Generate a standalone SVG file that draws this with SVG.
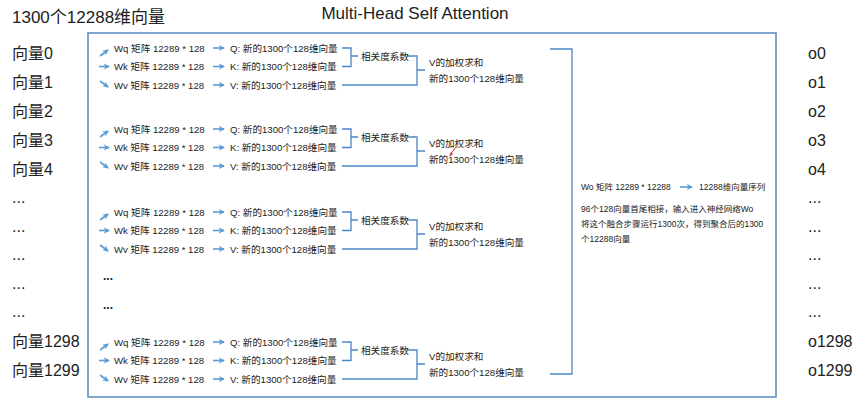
<svg xmlns="http://www.w3.org/2000/svg" width="865" height="405" viewBox="0 0 865 405">
<defs>
<marker id="ah" viewBox="0 0 8 8" refX="6" refY="4" markerWidth="7" markerHeight="7" markerUnits="userSpaceOnUse" orient="auto">
<path d="M0,0.5 L7,4 L0,7.5 L2,4 z" fill="#5b9bd5"/>
</marker>
<g id="blk">
<g class="arr">
<line x1="100" y1="8" x2="108" y2="2"/>
<line x1="99" y1="18.5" x2="109" y2="18.5"/>
<line x1="100" y1="33" x2="108" y2="39"/>
<line x1="213" y1="0" x2="224" y2="0"/>
<line x1="213" y1="18.5" x2="224" y2="18.5"/>
<line x1="213" y1="37" x2="224" y2="37"/>
</g>
<text class="s" x="114" y="0">Wq 矩阵 12289 * 128</text>
<text class="s" x="114" y="18.5">Wk 矩阵 12289 * 128</text>
<text class="s" x="114" y="37">Wv 矩阵 12289 * 128</text>
<text class="s" x="230" y="0">Q: 新的1300个128维向量</text>
<text class="s" x="230" y="18.5">K: 新的1300个128维向量</text>
<text class="s" x="230" y="37">V: 新的1300个128维向量</text>
<path class="br" d="M342,0 H351 V18.5 H342 M351,8 H358 M407,8 H417 V37 H342 M417,22 H425"/>
<text class="s" x="361" y="8">相关度系数</text>
<text class="s" x="429" y="14">V的加权求和</text>
<text class="s" x="429" y="30">新的1300个128维向量</text>
</g>
</defs>
<style>
text{font-family:"Liberation Sans","Noto Sans CJK SC",sans-serif;fill:#222;dominant-baseline:central}
.s{font-size:9.6px}
.m{font-size:16px}
.r{font-size:8.5px}
.arr line{stroke:#5b9bd5;stroke-width:1.6;marker-end:url(#ah)}
.br{fill:none;stroke:#4a86c6;stroke-width:1.3}
</style>
<rect width="865" height="405" fill="#ffffff"/>
<g id="title"><text x="415" y="13" text-anchor="middle" style="font-size:17px">Multi-Head Self Attention</text></g>
<g id="input-header"><text x="12" y="17" style="font-size:17px">1300个12288维向量</text></g>
<g id="main-box"><rect x="88" y="33" width="688" height="364" fill="none" stroke="#5f8fc4" stroke-width="1.6"/></g>
<g id="inputs">
<text class="m" x="12" y="53">向量0</text>
<text class="m" x="12" y="82">向量1</text>
<text class="m" x="12" y="111">向量2</text>
<text class="m" x="12" y="140">向量3</text>
<text class="m" x="12" y="169">向量4</text>
<text class="m" x="12" y="197">...</text>
<text class="m" x="12" y="226">...</text>
<text class="m" x="12" y="254">...</text>
<text class="m" x="12" y="283">...</text>
<text class="m" x="12" y="311">...</text>
<text class="m" x="12" y="341">向量1298</text>
<text class="m" x="12" y="370">向量1299</text>
</g>
<g id="outputs">
<text class="m" x="808" y="53">o0</text>
<text class="m" x="808" y="82">o1</text>
<text class="m" x="808" y="111">o2</text>
<text class="m" x="808" y="140">o3</text>
<text class="m" x="808" y="169">o4</text>
<text class="m" x="808" y="197">...</text>
<text class="m" x="808" y="226">...</text>
<text class="m" x="808" y="254">...</text>
<text class="m" x="808" y="283">...</text>
<text class="m" x="808" y="311">...</text>
<text class="m" x="808" y="341">o1298</text>
<text class="m" x="808" y="370">o1299</text>
</g>
<g id="head1"><use href="#blk" transform="translate(0,48)"/></g>
<g id="head2"><use href="#blk" transform="translate(0,129)"/></g>
<g id="head3"><use href="#blk" transform="translate(0,212)"/></g>
<g id="head-dots">
<text x="103" y="276" style="font-size:12px;font-weight:bold">...</text>
<text x="103" y="305" style="font-size:12px;font-weight:bold">...</text>
</g>
<g id="head4"><use href="#blk" transform="translate(0,342)"/></g>
<g id="cursor"><path d="M456,147 L450,155" stroke="#c0392b" stroke-width="1" fill="none"/><path d="M449,157 L451,152 L453,154 z" fill="#c0392b"/></g>
<g id="connectors">
<path class="br" d="M550,49 H572 V374 H550"/>
<line x1="680" y1="187" x2="692" y2="187" stroke="#5b9bd5" stroke-width="1.6" marker-end="url(#ah)"/>
</g>
<g id="wo-node">
<text class="r" x="581" y="187">Wo 矩阵 12289 * 12288</text>
<text class="r" x="699" y="187">12288维向量序列</text>
<text class="r" x="581" y="209">96个128向量首尾相接，输入进入神经网络Wo</text>
<text class="r" x="581" y="224">将这个融合步骤运行1300次，得到聚合后的1300</text>
<text class="r" x="581" y="239">个12288向量</text>
</g>
</svg>
